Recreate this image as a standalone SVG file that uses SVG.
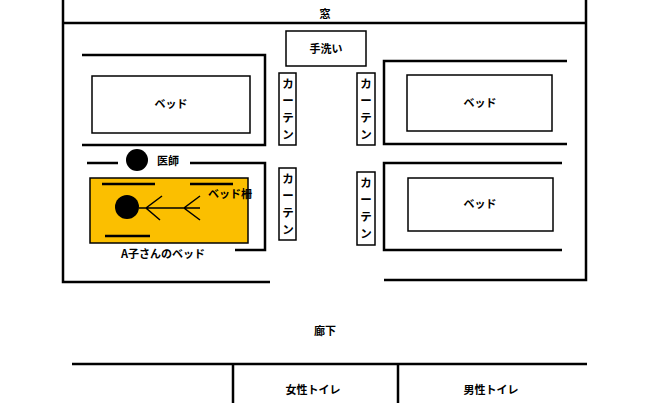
<svg xmlns="http://www.w3.org/2000/svg" width="650" height="403" viewBox="0 0 650 403">
<style>
.w{stroke:#000;stroke-width:2.5;fill:none}
.b{stroke:#000;stroke-width:1.5;fill:#fff}
text{font-family:"Noto Sans CJK JP","Liberation Sans",sans-serif;font-size:11px;font-weight:bold;text-anchor:middle;fill:#000}
.v{font-size:11.5px}
</style>
<rect width="650" height="403" fill="#fff"/>
<g id="walls" class="w">
<path d="M63,0V282H270M586,0V280H384M63,23H586"/>
<path d="M82,55H265V145H82"/>
<path d="M567,61H384V144H567"/>
<path d="M562,163H384V250H562"/>
<path d="M87,163H118M190,163H265V250H235"/>
<path d="M72,364H587M233,364V403M398,364V403"/>
</g>
<text x="325" y="18">窓</text>
<g id="sink"><rect class="b" x="286" y="31" width="80" height="35"/><text x="326" y="53">手洗い</text></g>
<g id="bed1"><rect class="b" x="92" y="76" width="158" height="57"/><text x="171" y="108">ベッド</text></g>
<g id="bed2"><rect class="b" x="407" y="75" width="145" height="56"/><text x="480" y="107">ベッド</text></g>
<g id="bed3"><rect class="b" x="408" y="178" width="145" height="53"/><text x="480" y="208">ベッド</text></g>
<g id="curtains">
<rect class="b" x="279" y="73" width="17" height="72"/>
<rect class="b" x="279" y="168" width="17" height="72"/>
<rect class="b" x="357" y="73" width="18" height="72"/>
<rect class="b" x="357" y="172" width="18" height="73"/>
<text class="v" x="288" y="88">カ</text><text class="v" x="288" y="105">ー</text><text class="v" x="288" y="122">テ</text><text class="v" x="288" y="139">ン</text>
<text class="v" x="288" y="183">カ</text><text class="v" x="288" y="200">ー</text><text class="v" x="288" y="217">テ</text><text class="v" x="288" y="234">ン</text>
<text class="v" x="366" y="88">カ</text><text class="v" x="366" y="105">ー</text><text class="v" x="366" y="122">テ</text><text class="v" x="366" y="139">ン</text>
<text class="v" x="366" y="187">カ</text><text class="v" x="366" y="204">ー</text><text class="v" x="366" y="221">テ</text><text class="v" x="366" y="238">ン</text>
</g>
<g id="doctor"><circle cx="137" cy="160" r="11"/><text x="168" y="165">医師</text></g>
<g id="patientbed">
<rect x="90" y="178" width="158" height="65" fill="#fbbf00" stroke="#000" stroke-width="1.5"/>
<path class="w" d="M102,184H155M190,184H233M105,236H150"/>
<circle cx="127" cy="207" r="12"/>
<path d="M139,208H200M162,196L146,208L160,220M200,196L184,208L200,220" stroke="#000" stroke-width="1.5" fill="none"/>
<text x="230" y="198">ベッド柵</text>
<text x="163" y="258">A子さんのベッド</text>
</g>
<text x="325" y="335">廊下</text>
<text x="313" y="394">女性トイレ</text>
<text x="491" y="394">男性トイレ</text>
</svg>
